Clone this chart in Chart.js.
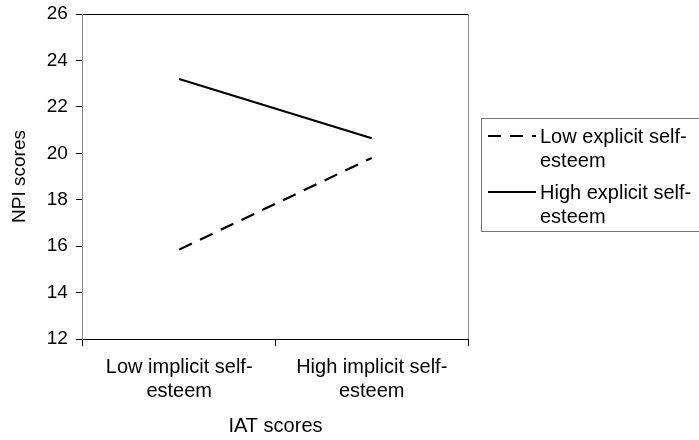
<!DOCTYPE html>
<html>
<head>
<meta charset="utf-8">
<script src="https://cdn.jsdelivr.net/npm/chart.js@4"></script>
<style>
  body { margin: 0; background: #fff; }
  #wrap { position: relative; width: 699px; height: 440px; overflow: hidden; }
  #legend {
    position: absolute; left: 481px; top: 118px; width: 240px; height: 114px;
    border: 1px solid #777; box-sizing: border-box;
    font-family: "Liberation Sans", Arial, sans-serif; font-size: 20px; color: #000;
  }
  .item { position: absolute; left: 0; }
  .item canvas { position: absolute; left: 4px; top: 0; }
  .item span { position: absolute; left: 58px; top: 0; line-height: 24px; white-space: nowrap; }
</style>
</head>
<body>
<div id="wrap">
  <canvas id="npiChart" width="699" height="440"></canvas>
  <div id="legend"></div>
</div>
<script>
const categories = [['Low implicit self-', 'esteem'], ['High implicit self-', 'esteem']];
const lowExplicit = [15.85, 19.8];
const highExplicit = [23.2, 20.65];
const seriesNames = [['Low explicit self-', 'esteem'], ['High explicit self-', 'esteem']];
const yTicks = { min: 12, max: 26, step: 2 };

const dashPattern = [14, 9];

// draws the top and right edges of the plot frame
const framePlugin = {
    id: 'frame',
    afterDraw(chart) {
        const a = chart.chartArea;
        const c = chart.ctx;
        c.save();
        c.lineWidth = 1;
        c.strokeStyle = '#000';
        c.beginPath();
        c.moveTo(a.left, a.top + 0.5);
        c.lineTo(a.right, a.top + 0.5);
        c.stroke();
        c.strokeStyle = '#888';
        c.beginPath();
        c.moveTo(a.right + 0.5, a.top);
        c.lineTo(a.right + 0.5, a.bottom);
        c.stroke();
        c.restore();
    }
};

let ctx = document.getElementById('npiChart').getContext('2d');
Chart.defaults.font.family = '"Liberation Sans", Arial, sans-serif';
Chart.defaults.color = '#000';

new Chart(ctx, {
    type: 'line',
    data: {
        labels: categories,
        datasets: [{
            label: seriesNames[0].join(' '),
            data: lowExplicit,
            borderColor: '#000',
            borderWidth: 2.2,
            borderDash: dashPattern,
            pointRadius: 0,
            fill: false
        }, {
            label: seriesNames[1].join(' '),
            data: highExplicit,
            borderColor: '#000',
            borderWidth: 2.2,
            pointRadius: 0,
            fill: false
        }]
    },
    options: {
        responsive: false,
        animation: false,
        layout: { padding: { top: 14, right: 231, bottom: 2, left: 4 } },
        plugins: {
            legend: { display: false },
            tooltip: { enabled: false }
        },
        scales: {
            x: {
                offset: true,
                grid: { display: true, drawOnChartArea: false, offset: true, tickLength: 7, color: '#000' },
                border: { color: '#000', width: 1 },
                ticks: { font: { size: 20, lineHeight: 1.2 }, padding: 9, maxRotation: 0 },
                title: { display: true, text: 'IAT scores', font: { size: 20 }, padding: { top: 2, bottom: 0 } }
            },
            y: {
                min: yTicks.min,
                max: yTicks.max,
                grid: { display: true, drawOnChartArea: false, tickLength: 7, color: '#000' },
                border: { color: '#888', width: 1 },
                ticks: { stepSize: yTicks.step, font: { size: 19 }, padding: 8 },
                title: { display: true, text: 'NPI scores', font: { size: 19 }, padding: { bottom: 8 } },
                afterFit(scale) {
                    // let the top tick label hang above the plot area
                    scale.paddingTop = 0;
                    scale.paddingBottom = 0;
                }
            }
        }
    },
    plugins: [framePlugin]
});

// legend with line samples
const legend = document.getElementById('legend');
seriesNames.forEach((name, i) => {
    const item = document.createElement('div');
    item.className = 'item';
    item.style.top = (5 + i * 56) + 'px';
    const sample = document.createElement('canvas');
    sample.width = 52; sample.height = 24;
    const g = sample.getContext('2d');
    g.strokeStyle = '#000';
    g.lineWidth = 2;
    if (i === 0) g.setLineDash([13, 9]);
    g.beginPath();
    g.moveTo(2, 12); g.lineTo(50, 12);
    g.stroke();
    item.appendChild(sample);
    const text = document.createElement('span');
    text.innerHTML = name[0] + '<br>' + name[1];
    item.appendChild(text);
    legend.appendChild(item);
});
</script>
</body>
</html>
